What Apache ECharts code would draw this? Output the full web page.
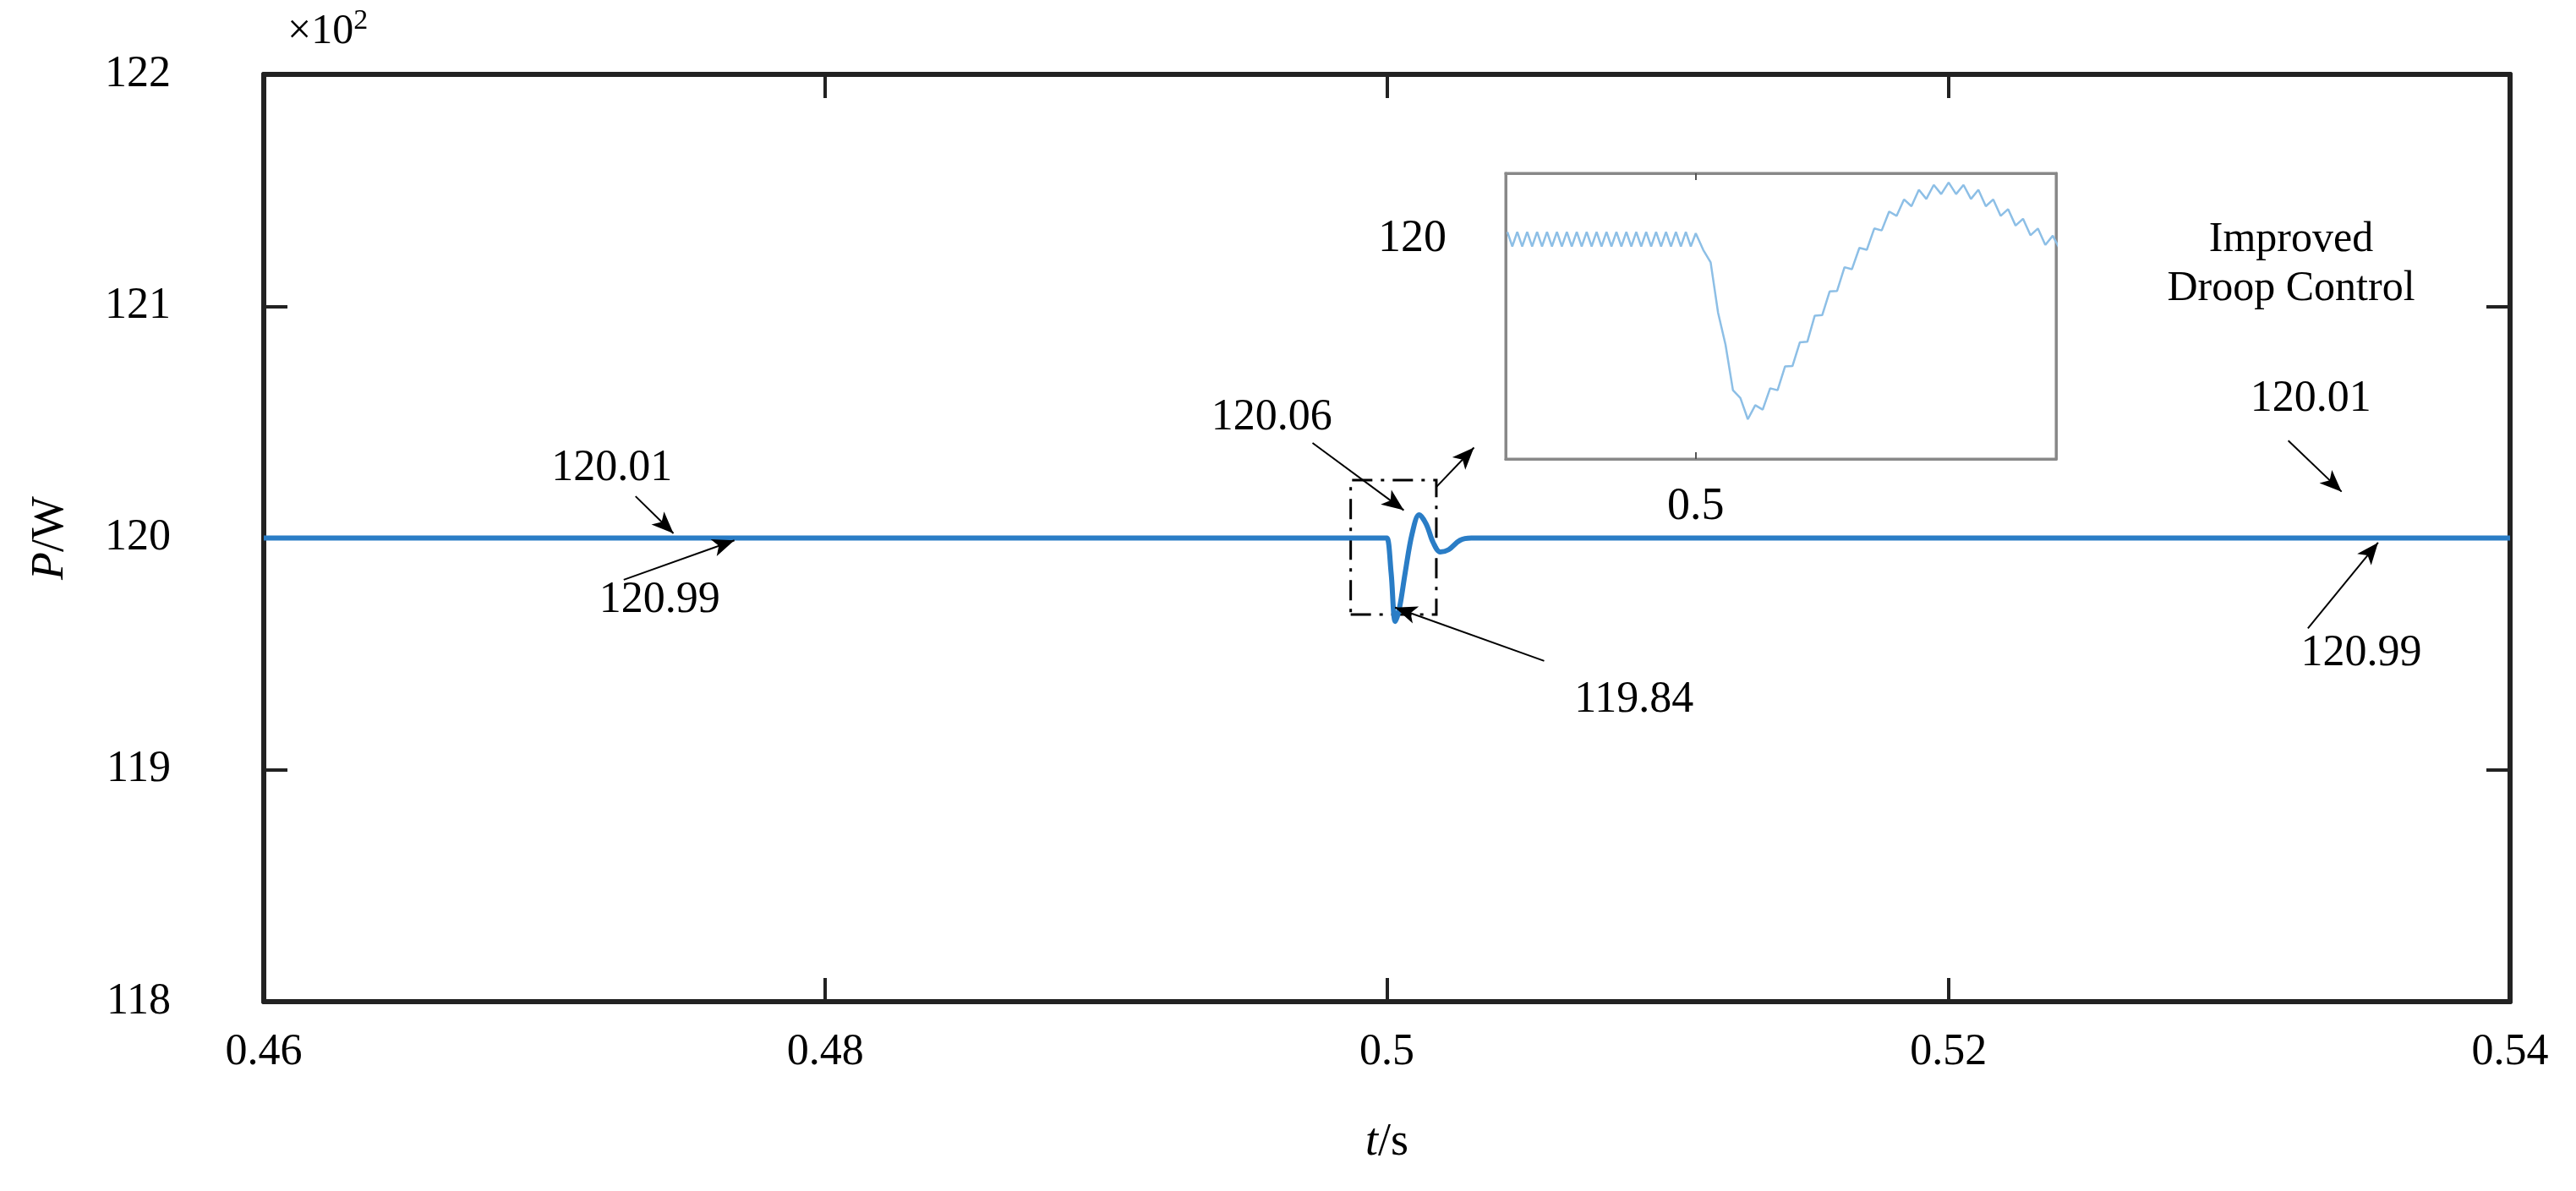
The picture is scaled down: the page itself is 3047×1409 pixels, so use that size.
<!DOCTYPE html>
<html><head><meta charset="utf-8">
<script src="https://cdn.jsdelivr.net/npm/echarts@6/dist/echarts.min.js"></script>
<style>html,body{margin:0;padding:0;background:#fff}#c{width:3047px;height:1409px}</style>
</head><body><div id="c"></div>
<script>
var xTicks=[0.46,0.48,0.5,0.52,0.54];
var yTicks=[118,119,120,121,122];
var mainT=[0.46,0.4999,0.50000,0.50015,0.50030,0.50045,0.50065,0.50090,0.50115,0.50140,0.50165,0.50190,0.50220,0.50260,0.50300,0.54];
var mainP=[120,120,120,119.85,119.64,119.70,119.85,120.02,120.10,120.06,119.98,119.94,119.95,119.99,120.0,120];
var insetT=[0.49886,0.49889,0.49892,0.49895,0.49898,0.49901,0.49904,0.49907,0.49910,0.49913,0.49916,0.49919,0.49922,0.49925,0.49928,0.49931,0.49934,0.49937,0.49940,0.49943,0.49946,0.49949,0.49952,0.49955,0.49958,0.49961,0.49964,0.49967,0.49970,0.49973,0.49976,0.49979,0.49982,0.49985,0.49988,0.49991,0.49994,0.49997,
0.50000,0.500045,0.50009,0.500135,0.50018,0.500225,0.50027,0.500315,0.50036,0.500405,0.50045,0.500495,0.50054,0.500585,0.50063,0.500675,0.50072,0.500765,0.50081,0.500855,0.50090,0.500945,0.50099,0.501035,0.50108,0.501125,0.50117,0.501215,0.50126,0.501305,0.50135,0.501395,0.50144,0.501485,0.50153,0.501575,0.50162,0.501665,0.50171,0.501755,0.50180,0.501845,0.50189,0.501935,0.50198,0.502025,0.50207,0.502115,0.50216,0.502205];
var insetP=[120.015,119.985,120.015,119.985,120.015,119.985,120.015,119.985,120.015,119.985,120.015,119.985,120.015,119.985,120.015,119.985,120.015,119.985,120.015,119.985,120.015,119.985,120.015,119.985,120.015,119.985,120.015,119.985,120.015,119.985,120.015,119.985,120.015,119.985,120.015,119.985,120.015,119.985,
120.012,119.978,119.952,119.848,119.782,119.688,119.672,119.628,119.657,119.648,119.692,119.688,119.737,119.738,119.787,119.788,119.842,119.843,119.892,119.893,119.942,119.938,119.982,119.978,120.022,120.018,120.057,120.048,120.082,120.068,120.102,120.083,120.112,120.093,120.117,120.093,120.112,120.083,120.102,120.068,120.082,120.048,120.062,120.028,120.042,120.008,120.022,119.988,120.007,119.978];
var notes=[
 {text:'120.01',t:0.4724,v:120.30},
 {text:'120.99',t:0.4741,v:119.73},
 {text:'120.06',t:0.4959,v:120.52},
 {text:'119.84',t:0.5088,v:119.30},
 {text:'120.01',t:0.5329,v:120.60},
 {text:'120.99',t:0.5347,v:119.50}
];
var arrows=[
 [[0.47324,120.18],[0.47459,120.02]],
 [[0.47282,119.82],[0.47676,119.99]],
 [[0.49735,120.41],[0.50060,120.12]],
 [[0.50176,120.22],[0.50310,120.39]],
 [[0.50560,119.47],[0.50029,119.70]],
 [[0.53210,120.42],[0.53400,120.20]],
 [[0.53280,119.61],[0.53530,119.98]]
];
var boxT=[0.49871,0.50176], boxV=[119.67,120.25];

var F='"Liberation Serif","Times New Roman",serif';
var frame={lineStyle:{color:'#222',width:6}};
function pairs(a,b){return a.map(function(x,i){return [x,b[i]];});}
var chart=echarts.init(document.getElementById('c'));
chart.setOption({
 animation:false,
 backgroundColor:'#fff',
 grid:[{left:312,right:78,top:88,bottom:224},{left:1781,right:615,top:205,bottom:866,show:true,borderColor:'#888',borderWidth:3,backgroundColor:'#fff',z:10}],
 xAxis:[
  {gridIndex:0,type:'value',min:0.46,max:0.54,interval:0.02,axisLine:frame,axisTick:{inside:true,length:28,lineStyle:{color:'#222',width:4}},axisLabel:{fontFamily:F,fontSize:52,color:'#000',margin:34},splitLine:{show:false},
   name:'{i|t}/s',nameLocation:'middle',nameGap:140,nameTextStyle:{fontFamily:F,fontSize:54,color:'#000',rich:{i:{fontStyle:'italic',fontFamily:F,fontSize:54}}}},
  {gridIndex:0,type:'value',position:'top',min:0.46,max:0.54,interval:0.02,axisLine:frame,axisTick:{inside:true,length:28,lineStyle:{color:'#222',width:4}},axisLabel:{show:false},splitLine:{show:false}},
  {gridIndex:1,type:'value',min:0.49885,max:0.50218,axisLine:{lineStyle:{color:'#888',width:3}},axisTick:{inside:true,length:8,customValues:[0.5],lineStyle:{color:'#555',width:2}},axisLabel:{customValues:[0.5],fontFamily:F,fontSize:54,color:'#000',margin:30},splitLine:{show:false},z:11},
  {gridIndex:1,type:'value',position:'top',min:0.49885,max:0.50218,axisLine:{lineStyle:{color:'#888',width:3}},axisTick:{inside:true,length:8,customValues:[0.5],lineStyle:{color:'#555',width:2}},axisLabel:{show:false},splitLine:{show:false},z:11}
 ],
 yAxis:[
  {gridIndex:0,type:'value',min:118,max:122,interval:1,axisLine:frame,axisTick:{inside:true,length:28,lineStyle:{color:'#222',width:4}},axisLabel:{fontFamily:F,fontSize:52,color:'#000',margin:110},splitLine:{show:false},
   name:'{i|P}/W',nameLocation:'middle',nameGap:225,nameTextStyle:{fontFamily:F,fontSize:54,color:'#000',rich:{i:{fontStyle:'italic',fontFamily:F,fontSize:54}}}},
  {gridIndex:0,type:'value',position:'right',min:118,max:122,interval:1,axisLine:frame,axisTick:{inside:true,length:28,lineStyle:{color:'#222',width:4}},axisLabel:{show:false},splitLine:{show:false}},
  {gridIndex:1,type:'value',min:119.546,max:120.136,axisLine:{lineStyle:{color:'#888',width:3}},axisTick:{show:false},axisLabel:{customValues:[120],fontFamily:F,fontSize:54,color:'#000',margin:70},splitLine:{show:false},z:11},
  {gridIndex:1,type:'value',position:'right',min:119.546,max:120.136,axisLine:{lineStyle:{color:'#888',width:3}},axisTick:{show:false},axisLabel:{show:false},splitLine:{show:false},z:11}
 ],
 series:[
  {type:'line',xAxisIndex:0,yAxisIndex:0,data:pairs(mainT,mainP),showSymbol:false,smooth:0.35,lineStyle:{color:'#2a7dc6',width:6},z:3,
   markPoint:{symbol:'circle',symbolSize:0,silent:true,data:notes.map(function(n){return {coord:[n.t,n.v],label:{show:true,formatter:n.text,fontFamily:F,fontSize:52,color:'#000'}};})},
   markLine:{silent:true,symbol:['none','arrow'],symbolSize:[16,26],label:{show:false},lineStyle:{color:'#000',width:2,type:'solid'},
    data:arrows.map(function(a){return [{coord:a[0]},{coord:a[1]}];})},
   markArea:{silent:true,itemStyle:{color:'rgba(0,0,0,0)',borderColor:'#000',borderWidth:3,borderType:[24,10,4,10]},data:[[{coord:[boxT[0],boxV[0]]},{coord:[boxT[1],boxV[1]]}]]}
  },
  {type:'line',xAxisIndex:2,yAxisIndex:2,data:pairs(insetT,insetP),showSymbol:false,lineStyle:{color:'#8dbfe6',width:2.5},z:12}
 ],
 graphic:[
  {type:'text',left:340,top:8,style:{text:'×10{s|2}',fontFamily:F,fontSize:50,fill:'#000',rich:{s:{fontSize:34,verticalAlign:'top',padding:[0,0,26,0],fontFamily:F}}}},
  {type:'text',x:2710,y:255,style:{text:'Improved\nDroop Control',textAlign:'center',fontFamily:F,fontSize:50,lineHeight:58,fill:'#000'}}
 ]
});
</script></body></html>
